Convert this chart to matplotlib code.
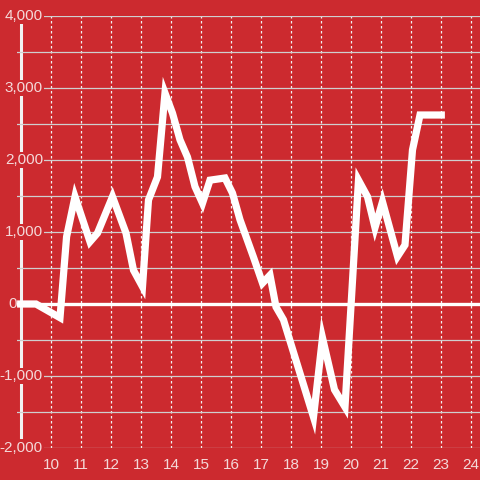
import numpy as np
import matplotlib
matplotlib.use("Agg")
import matplotlib.pyplot as plt
from matplotlib.ticker import MultipleLocator

# data
x_vals = [8.87, 9.5, 10.3, 10.52, 10.8, 11.3, 11.55, 12.05, 12.5, 12.75, 13.05,
          13.25, 13.55, 13.8, 14.05, 14.3, 14.55, 14.8, 15.05, 15.3, 15.8, 16.05,
          16.3, 16.75, 17.05, 17.3, 17.5, 17.75, 18.75, 19.05, 19.45, 19.8, 20.25,
          20.55, 20.8, 21.05, 21.55, 21.8, 22.05, 22.3, 23.13]
y_vals = [0, 0, -190, 935, 1490, 865, 985, 1490, 985, 470, 240,
          1445, 1765, 2930, 2650, 2280, 2040, 1630, 1400, 1720, 1750, 1540,
          1170, 650, 290, 400, -40, -220, -1570, -470, -1190, -1430, 1720,
          1490, 1060, 1420, 660, 820, 2140, 2625, 2625]
x_ticks = list(range(10, 25))
y_ticks = [-2000, -1000, 0, 1000, 2000, 3000, 4000]

BG = '#cc2a2f'
TXT = '#f4d9d9'

plt.rcParams['font.family'] = ['Liberation Sans', 'DejaVu Sans']

fig = plt.figure(figsize=(4.8, 4.8), dpi=100, facecolor=BG)
# axes: left 17px, right 480px, top 16px, bottom 448px
ax = fig.add_axes([17 / 480, 32 / 480, 463 / 480, 432 / 480], facecolor=BG)

ax.set_xlim(8.867, 8.867 + 463 / 30)
ax.set_ylim(-2000, 4000)

for s in ax.spines.values():
    s.set_visible(False)

# grid
ax.set_xticks(x_ticks)
ax.set_yticks(y_ticks)
ax.yaxis.set_minor_locator(MultipleLocator(500))
ax.yaxis.grid(True, which='both', color='#cfcfcf', lw=0.9, ls='-')
ax.xaxis.grid(True, color='#f2f2f2', lw=0.9, ls=(0, (2, 2)))
ax.tick_params(axis='both', which='both', length=0)
ax.tick_params(axis='y', labelleft=False)
ax.tick_params(axis='x', pad=7, labelsize=11, labelcolor=TXT)

# y labels sit inside the plot, over the axis line
tr = ax.get_yaxis_transform()
for v in y_ticks:
    if v == 0:
        ax.text(-9 / 463, v, "0", transform=tr, ha='left', va='center',
                fontsize=11, color=TXT, clip_on=False, zorder=2.5)
    else:
        ax.text(26 / 463, v, f"{v:,}", transform=tr, ha='right', va='center',
                fontsize=11, color=TXT, clip_on=False, zorder=2.5,
                bbox=dict(facecolor=BG, edgecolor='none', pad=1.0))

# left axis line and zero line
ax.axvline(9.0, ymin=11 / 432, ymax=424 / 432, color='#f2f2f2', lw=2.2, zorder=1)
ax.axhline(0, color='white', lw=2.4, zorder=2)

ax.plot(x_vals, y_vals, color='white', lw=5.2, solid_joinstyle='miter',
        solid_capstyle='butt', zorder=3)

fig.savefig('out.png', dpi=100, facecolor=BG)
